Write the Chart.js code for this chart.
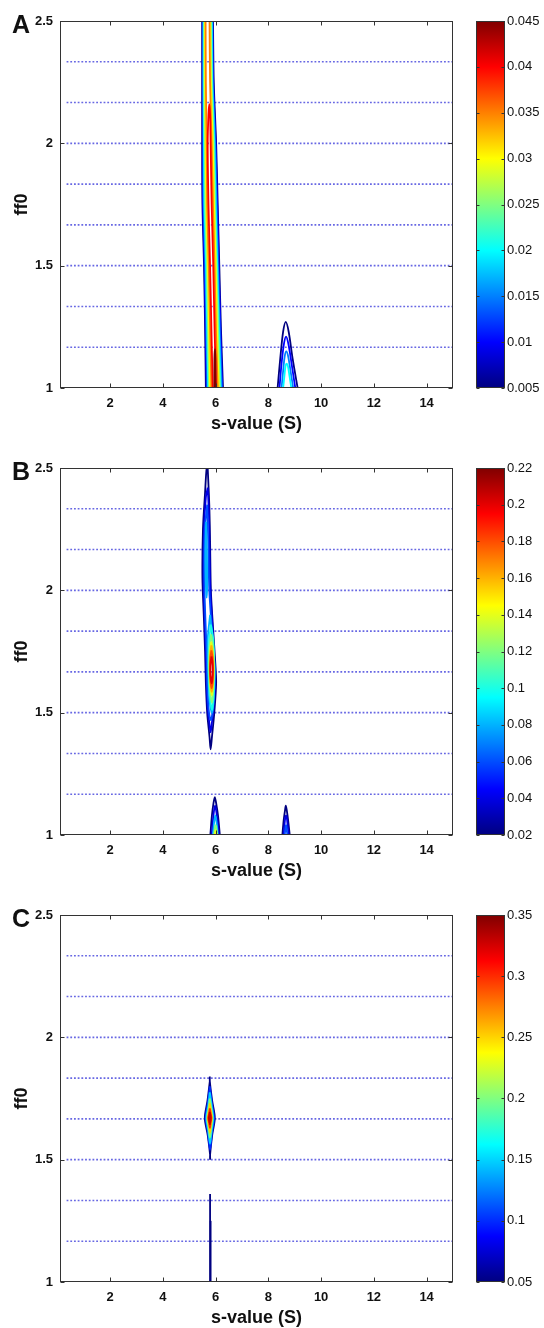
<!DOCTYPE html>
<html><head><meta charset="utf-8">
<script src="https://cdn.jsdelivr.net/npm/chart.js@4.4.1/dist/chart.umd.min.js"></script>
<style>
html,body{margin:0;padding:0;background:#fff;width:544px;height:1328px;overflow:hidden;}
.panel{position:absolute;left:0;width:544px;height:447px;}
.main{position:absolute;left:0;top:0;}
.cb{position:absolute;left:470px;top:0;}
.letter{position:absolute;left:12px;top:12px;font:bold 25px "Liberation Sans",Arial,sans-serif;line-height:25px;color:#111;}
</style></head><body>
<div class="panel" style="top:0px"><canvas class="main" id="mA" width="470" height="447"></canvas><canvas class="cb" id="cA" width="74" height="447"></canvas><div class="letter">A</div></div>
<div class="panel" style="top:447px"><canvas class="main" id="mB" width="470" height="447"></canvas><canvas class="cb" id="cB" width="74" height="447"></canvas><div class="letter">B</div></div>
<div class="panel" style="top:894px"><canvas class="main" id="mC" width="470" height="447"></canvas><canvas class="cb" id="cC" width="74" height="447"></canvas><div class="letter">C</div></div>
<script>
// ---------- axes / ticks ----------
const xRange = [0.1, 15];
const yRange = [1, 2.5];
const xTicks = [2, 4, 6, 8, 10, 12, 14];
const yTicks = [1, 1.5, 2, 2.5];
const xTitle = 's-value (S)';
const yTitle = 'ff0';
const f0Lines = [1.1667, 1.3333, 1.5, 1.6667, 1.8333, 2.0, 2.1667, 2.3333];
const f0LineStartX = 0.35;

// ---------- colorbars ----------
const cbRangeA = [0.005, 0.045];
const cbTicksA = [0.005, 0.01, 0.015, 0.02, 0.025, 0.03, 0.035, 0.04, 0.045];
const cbRangeB = [0.02, 0.22];
const cbTicksB = [0.02, 0.04, 0.06, 0.08, 0.1, 0.12, 0.14, 0.16, 0.18, 0.2, 0.22];
const cbRangeC = [0.05, 0.35];
const cbTicksC = [0.05, 0.1, 0.15, 0.2, 0.25, 0.3, 0.35];

// ---------- Panel A contours ----------
const bandA_y = [1.0, 1.25, 1.5, 1.75, 2.0, 2.25, 2.5];
const bandA_levels = [0.005, 0.01, 0.015, 0.02, 0.025, 0.03, 0.035];
const bandA_left = [
  [5.63, 5.60, 5.56, 5.50, 5.49, 5.49, 5.49],
  [5.66, 5.62, 5.58, 5.52, 5.51, 5.51, 5.51],
  [5.69, 5.65, 5.61, 5.55, 5.54, 5.53, 5.53],
  [5.72, 5.68, 5.64, 5.58, 5.56, 5.55, 5.55],
  [5.75, 5.71, 5.67, 5.61, 5.59, 5.57, 5.57],
  [5.79, 5.75, 5.71, 5.65, 5.62, 5.60, 5.59],
  [5.84, 5.79, 5.74, 5.68, 5.66, 5.63, 5.62]
];
const bandA_right = [
  [6.28, 6.20, 6.14, 6.08, 6.02, 5.93, 5.90],
  [6.25, 6.18, 6.12, 6.06, 6.00, 5.91, 5.88],
  [6.23, 6.15, 6.09, 6.03, 5.98, 5.89, 5.87],
  [6.19, 6.12, 6.06, 6.00, 5.95, 5.87, 5.85],
  [6.16, 6.09, 6.03, 5.97, 5.92, 5.85, 5.82],
  [6.12, 6.05, 6.00, 5.94, 5.89, 5.82, 5.80],
  [6.08, 6.01, 5.96, 5.90, 5.85, 5.79, 5.77]
];
const loopsA_levels = [0.04, 0.045];
const loopsA_x = [
  [5.89, 5.845, 5.79, 5.73, 5.70, 5.73, 5.76, 5.79, 5.81, 5.85, 5.91, 5.965, 6.02],
  [5.95, 5.955, 5.975, 5.99, 6.0]
];
const loopsA_y = [
  [1.0, 1.22, 1.5, 1.75, 2.0, 2.12, 2.16, 2.12, 2.0, 1.75, 1.5, 1.22, 1.0],
  [1.0, 1.12, 1.16, 1.12, 1.0]
];
const archA_levels = [0.005, 0.01, 0.015, 0.02];
const archA_x = [
  [8.35, 8.45, 8.56, 8.66, 8.77, 8.92, 9.11],
  [8.42, 8.50, 8.59, 8.67, 8.76, 8.88, 9.02],
  [8.50, 8.56, 8.62, 8.68, 8.75, 8.84, 8.94],
  [8.56, 8.61, 8.65, 8.69, 8.74, 8.80, 8.87]
];
const archA_y = [
  [1.0, 1.12, 1.23, 1.27, 1.23, 1.12, 1.0],
  [1.0, 1.10, 1.18, 1.21, 1.18, 1.10, 1.0],
  [1.0, 1.07, 1.13, 1.15, 1.13, 1.07, 1.0],
  [1.0, 1.05, 1.09, 1.10, 1.09, 1.05, 1.0]
];

// ---------- Panel B contours ----------
const loopsB_levels = [0.02, 0.04, 0.06, 0.08, 0.08, 0.1, 0.12, 0.14, 0.16, 0.18, 0.2];
const loopsB_x = [
  [5.70, 5.76, 5.79, 5.82, 5.90, 5.99, 6.02, 5.95, 5.86, 5.81, 5.77, 5.68, 5.63, 5.60, 5.55, 5.50, 5.52, 5.60, 5.66, 5.70],
  [5.70, 5.75, 5.77, 5.80, 5.88, 5.96, 5.98, 5.92, 5.85, 5.81, 5.77, 5.70, 5.66, 5.63, 5.58, 5.54, 5.56, 5.63, 5.70],
  [5.68, 5.72, 5.76, 5.85, 5.95, 5.95, 5.88, 5.82, 5.75, 5.69, 5.66, 5.60, 5.57, 5.59, 5.68],
  [5.64, 5.67, 5.68, 5.66, 5.63, 5.61, 5.64],
  [5.79, 5.88, 5.96, 5.93, 5.86, 5.78, 5.72, 5.70, 5.79],
  [5.82, 5.91, 5.95, 5.92, 5.87, 5.78, 5.74, 5.76, 5.82],
  [5.83, 5.90, 5.94, 5.91, 5.87, 5.79, 5.76, 5.77, 5.83],
  [5.835, 5.89, 5.925, 5.90, 5.86, 5.80, 5.775, 5.785, 5.835],
  [5.84, 5.89, 5.915, 5.895, 5.855, 5.805, 5.78, 5.795, 5.84],
  [5.84, 5.885, 5.905, 5.885, 5.85, 5.81, 5.785, 5.80, 5.84],
  [5.845, 5.875, 5.89, 5.875, 5.85, 5.82, 5.80, 5.815, 5.845]
];
const loopsB_y = [
  [2.5, 2.35, 2.2, 2.0, 1.85, 1.7, 1.62, 1.5, 1.4, 1.35, 1.4, 1.5, 1.62, 1.75, 1.9, 2.05, 2.25, 2.4, 2.5, 2.5],
  [2.42, 2.3, 2.15, 2.0, 1.85, 1.7, 1.62, 1.52, 1.45, 1.42, 1.45, 1.52, 1.62, 1.75, 1.9, 2.05, 2.25, 2.38, 2.42],
  [2.35, 2.2, 2.0, 1.85, 1.7, 1.6, 1.5, 1.47, 1.5, 1.6, 1.75, 1.92, 2.07, 2.25, 2.35],
  [2.28, 2.15, 2.02, 1.97, 2.02, 2.15, 2.28],
  [1.9, 1.8, 1.68, 1.56, 1.5, 1.54, 1.66, 1.8, 1.9],
  [1.86, 1.80, 1.68, 1.57, 1.51, 1.57, 1.68, 1.80, 1.86],
  [1.82, 1.77, 1.68, 1.59, 1.54, 1.59, 1.68, 1.77, 1.82],
  [1.79, 1.75, 1.68, 1.61, 1.57, 1.61, 1.68, 1.75, 1.79],
  [1.775, 1.74, 1.675, 1.615, 1.585, 1.615, 1.675, 1.74, 1.775],
  [1.755, 1.725, 1.675, 1.625, 1.60, 1.625, 1.675, 1.725, 1.755],
  [1.73, 1.71, 1.672, 1.635, 1.62, 1.635, 1.672, 1.71, 1.73]
];
const peaksB_levels = [0.02, 0.04, 0.08, 0.12, 0.14, 0.02, 0.04, 0.06];
const peaksB_x = [
  [5.80, 5.86, 5.92, 5.97, 6.02, 6.09, 6.16],
  [5.85, 5.90, 5.94, 5.98, 6.02, 6.07, 6.12],
  [5.90, 5.93, 5.96, 5.99, 6.02, 6.05, 6.08],
  [5.94, 5.96, 5.98, 6.00, 6.02, 6.04, 6.06],
  [5.97, 5.98, 5.99, 6.00, 6.01, 6.02, 6.03],
  [8.53, 8.58, 8.63, 8.66, 8.70, 8.75, 8.81],
  [8.58, 8.61, 8.64, 8.67, 8.70, 8.73, 8.77],
  [8.62, 8.64, 8.655, 8.67, 8.685, 8.70, 8.72]
];
const peaksB_y = [
  [1.0, 1.08, 1.13, 1.155, 1.13, 1.08, 1.0],
  [1.0, 1.06, 1.10, 1.12, 1.10, 1.06, 1.0],
  [1.0, 1.04, 1.065, 1.08, 1.065, 1.04, 1.0],
  [1.0, 1.02, 1.035, 1.04, 1.035, 1.02, 1.0],
  [1.0, 1.01, 1.018, 1.02, 1.018, 1.01, 1.0],
  [1.0, 1.06, 1.10, 1.12, 1.10, 1.06, 1.0],
  [1.0, 1.04, 1.07, 1.08, 1.07, 1.04, 1.0],
  [1.0, 1.02, 1.035, 1.04, 1.035, 1.02, 1.0]
];

// ---------- Panel C contours ----------
const loopsC_levels = [0.05, 0.1, 0.15, 0.2, 0.25, 0.3, 0.33, 0.05, 0.05];
const loopsC_x = [
  [5.78, 5.78, 5.87, 5.97, 5.87, 5.79, 5.79, 5.79, 5.70, 5.59, 5.69, 5.78],
  [5.78, 5.86, 5.94, 5.86, 5.79, 5.71, 5.62, 5.70, 5.78],
  [5.78, 5.85, 5.91, 5.85, 5.79, 5.72, 5.65, 5.72, 5.78],
  [5.78, 5.835, 5.88, 5.835, 5.785, 5.735, 5.68, 5.735, 5.78],
  [5.78, 5.82, 5.86, 5.82, 5.785, 5.745, 5.70, 5.745, 5.78],
  [5.78, 5.81, 5.84, 5.81, 5.785, 5.755, 5.72, 5.755, 5.78],
  [5.78, 5.80, 5.815, 5.80, 5.785, 5.765, 5.745, 5.765, 5.78],
  [5.79, 5.79],
  [5.81, 5.81]
];
const loopsC_y = [
  [1.84, 1.82, 1.74, 1.67, 1.60, 1.52, 1.50, 1.52, 1.60, 1.67, 1.74, 1.82],
  [1.80, 1.73, 1.67, 1.61, 1.54, 1.61, 1.67, 1.73, 1.80],
  [1.775, 1.72, 1.67, 1.62, 1.565, 1.62, 1.67, 1.72, 1.775],
  [1.75, 1.71, 1.67, 1.63, 1.59, 1.63, 1.67, 1.71, 1.75],
  [1.73, 1.70, 1.67, 1.64, 1.61, 1.64, 1.67, 1.70, 1.73],
  [1.71, 1.69, 1.67, 1.65, 1.63, 1.65, 1.67, 1.69, 1.71],
  [1.695, 1.683, 1.67, 1.657, 1.645, 1.657, 1.67, 1.683, 1.695],
  [1.0, 1.36],
  [1.0, 1.25]
];

// ---------- helpers ----------
Chart.defaults.font.family = '"Liberation Sans", Arial, sans-serif';
Chart.defaults.color = '#111';

function clamp01(v){ return Math.max(0, Math.min(1, v)); }
function jet(t){
  t = clamp01(t);
  const r = clamp01(1.5 - Math.abs(4*t - 3));
  const g = clamp01(1.5 - Math.abs(4*t - 2));
  const b = clamp01(1.5 - Math.abs(4*t - 1));
  return 'rgb(' + Math.round(r*255) + ',' + Math.round(g*255) + ',' + Math.round(b*255) + ')';
}
function contour(xs, ys, level, range){
  const t = (level - range[0]) / (range[1] - range[0]);
  return {
    data: xs.map((x, i) => ({x: x, y: ys[i]})),
    showLine: true, pointRadius: 0, borderWidth: 1.8, tension: 0.3,
    borderColor: jet(t),
    fill: false, order: 2 - t
  };
}
function f0Datasets(){
  return f0Lines.map(v => ({
    data: [{x: f0LineStartX, y: v}, {x: xRange[1], y: v}],
    showLine: true, pointRadius: 0, borderWidth: 1.6,
    borderColor: 'rgba(95,95,225,0.95)', borderDash: [1.8, 1.9], order: 5
  }));
}

const boxPlugin = {
  id: 'matlabBox',
  afterDatasetsDraw(chart, args, opts){
    const a = chart.chartArea, ctx = chart.ctx;
    ctx.save();
    ctx.strokeStyle = '#333';
    ctx.lineWidth = 1;
    const L = Math.round(a.left) + 0.5, R = Math.round(a.right) - 0.5;
    const T = Math.round(a.top) + 0.5, B = Math.round(a.bottom) - 0.5;
    ctx.strokeRect(L, T, R - L, B - T);
    const tl = opts.tickLen || 4;
    ctx.beginPath();
    if (opts.xTicks && chart.scales.x) {
      chart.scales.x.ticks.forEach(t => {
        const p = Math.round(chart.scales.x.getPixelForValue(t.value)) + 0.5;
        ctx.moveTo(p, B); ctx.lineTo(p, B - tl);
        ctx.moveTo(p, T); ctx.lineTo(p, T + tl);
      });
    }
    const ys = chart.scales.y;
    ys.ticks.forEach(t => {
      const p = Math.round(ys.getPixelForValue(t.value)) + 0.5;
      ctx.moveTo(L, p); ctx.lineTo(L + tl, p);
      ctx.moveTo(R, p); ctx.lineTo(R - tl, p);
    });
    ctx.stroke();
    ctx.restore();
  }
};

function makeMain(id, datasets){
  new Chart(document.getElementById(id), {
    type: 'scatter',
    data: {datasets: f0Datasets().concat(datasets)},
    options: {
      responsive: false, animation: false, devicePixelRatio: 1,
      layout: {padding: {left: 0, top: 21, right: 17, bottom: 0}},
      plugins: {legend: {display: false}, tooltip: {enabled: false},
        matlabBox: {xTicks: true, tickLen: 4}},
      scales: {
        x: {
          type: 'linear', min: xRange[0], max: xRange[1],
          afterBuildTicks: s => { s.ticks = xTicks.map(v => ({value: v})); },
          afterFit: s => { s.height = 59; },
          grid: {display: false, drawTicks: false}, border: {display: false},
          ticks: {padding: 8, font: {size: 13, weight: 'bold'}, color: '#111', callback: v => String(v)},
          title: {display: true, text: xTitle, font: {size: 18, weight: 'bold'}, color: '#111', padding: {top: 0, bottom: 12}}
        },
        y: {
          type: 'linear', min: yRange[0], max: yRange[1],
          afterBuildTicks: s => { s.ticks = yTicks.map(v => ({value: v})); },
          afterFit: s => { s.width = 60; },
          grid: {display: false, drawTicks: false}, border: {display: false},
          ticks: {padding: 7, font: {size: 13, weight: 'bold'}, color: '#111', callback: v => String(v)},
          title: {display: true, text: yTitle, font: {size: 18, weight: 'bold'}, color: '#111', padding: {top: 11, bottom: 0}}
        }
      }
    },
    plugins: [boxPlugin]
  });
}

function makeBar(id, range, ticks){
  new Chart(document.getElementById(id), {
    type: 'bar',
    data: {labels: [''], datasets: [{
      data: [[range[0], range[1]]],
      barPercentage: 1, categoryPercentage: 1, borderWidth: 0,
      backgroundColor: (c) => {
        const ch = c.chart, a = ch.chartArea;
        if (!a) return '#00f';
        const g = ch.ctx.createLinearGradient(0, a.bottom, 0, a.top);
        for (let i = 0; i <= 32; i++) g.addColorStop(i / 32, jet(i / 32));
        return g;
      }
    }]},
    options: {
      responsive: false, animation: false, devicePixelRatio: 1,
      layout: {padding: {left: 6, top: 21, right: 0, bottom: 59}},
      plugins: {legend: {display: false}, tooltip: {enabled: false}, matlabBox: {xTicks: false, tickLen: 3}},
      scales: {
        x: {display: false},
        y: {
          type: 'linear', position: 'right', min: range[0], max: range[1],
          afterBuildTicks: s => { s.ticks = ticks.map(v => ({value: v})); },
          afterFit: s => { s.width = 39; },
          grid: {display: false, drawTicks: false}, border: {display: false},
          ticks: {padding: 2, font: {size: 13}, color: '#111', callback: v => String(v)}
        }
      }
    },
    plugins: [boxPlugin]
  });
}

// Panel A
const dsA = [];
bandA_levels.forEach((lv, i) => {
  dsA.push(contour(bandA_left[i], bandA_y, lv, cbRangeA));
  dsA.push(contour(bandA_right[i], bandA_y, lv, cbRangeA));
});
loopsA_levels.forEach((lv, i) => dsA.push(contour(loopsA_x[i], loopsA_y[i], lv, cbRangeA)));
archA_levels.forEach((lv, i) => dsA.push(contour(archA_x[i], archA_y[i], lv, cbRangeA)));
makeMain('mA', dsA);
makeBar('cA', cbRangeA, cbTicksA);

// Panel B
const dsB = [];
loopsB_levels.forEach((lv, i) => dsB.push(contour(loopsB_x[i], loopsB_y[i], lv, cbRangeB)));
peaksB_levels.forEach((lv, i) => dsB.push(contour(peaksB_x[i], peaksB_y[i], lv, cbRangeB)));
makeMain('mB', dsB);
makeBar('cB', cbRangeB, cbTicksB);

// Panel C
const dsC = [];
loopsC_levels.forEach((lv, i) => dsC.push(contour(loopsC_x[i], loopsC_y[i], lv, cbRangeC)));
makeMain('mC', dsC);
makeBar('cC', cbRangeC, cbTicksC);
</script>
</body></html>
